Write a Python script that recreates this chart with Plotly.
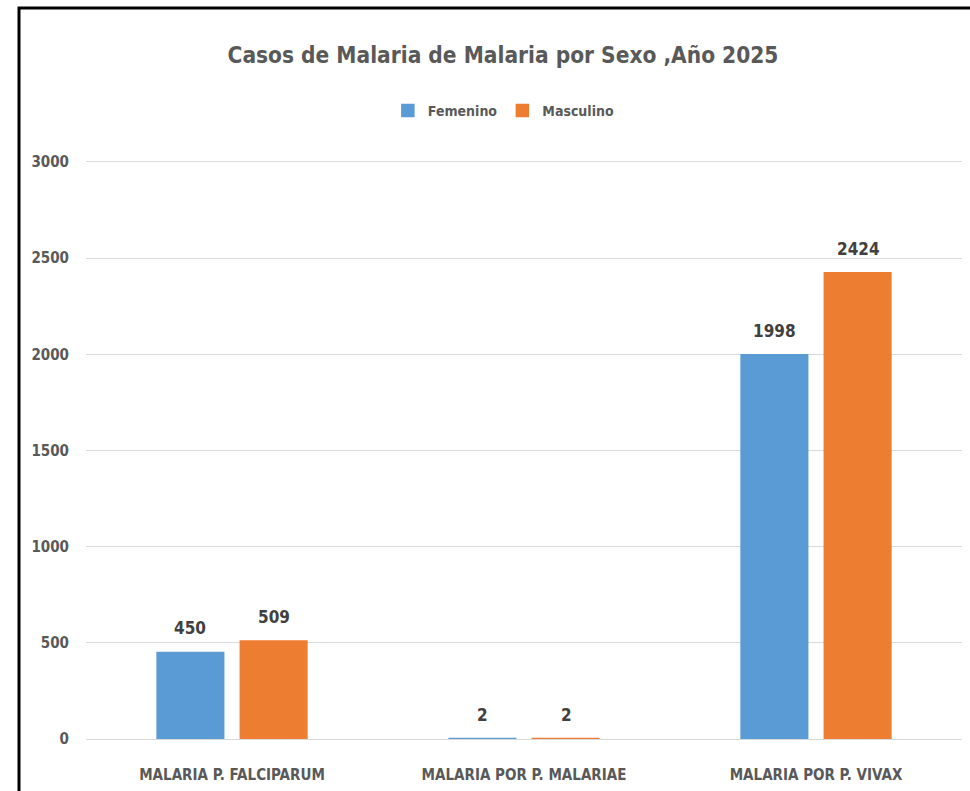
import plotly.graph_objects as go

categorias = ["MALARIA P. FALCIPARUM", "MALARIA POR P. MALARIAE", "MALARIA POR P. VIVAX"]
femenino = [450, 2, 1998]
masculino = [509, 2, 2424]
y_ticks = [0, 500, 1000, 1500, 2000, 2500, 3000]

FONT = "Liberation Sans Narrow, DejaVu Sans Condensed, Arial Narrow, sans-serif"

fig = go.Figure()

series = [("Femenino", femenino, "#5B9BD5", -42), ("Masculino", masculino, "#ED7D31", 42)]
for nombre, valores, color, desplaz in series:
    fig.add_trace(go.Bar(
        x=categorias,
        y=valores,
        name=nombre,
        marker=dict(color=color, line=dict(color=color, width=1.5)),
    ))
    # etiquetas de datos, separadas un poco de la barra como en Excel
    for cat, val in zip(categorias, valores):
        fig.add_annotation(
            x=cat, y=val, text=f"<b>{val}</b>",
            showarrow=False, xanchor="center", yanchor="bottom",
            xshift=desplaz, yshift=12,
            font=dict(family=FONT, size=17, color="#404040"),
        )

fig.update_layout(
    width=970,
    height=791,
    margin=dict(l=86, r=8, t=160, b=52),
    paper_bgcolor="white",
    plot_bgcolor="white",
    barmode="group",
    bargap=0.43,
    bargroupgap=0.2,
    title=dict(
        text="<b>Casos de Malaria de Malaria por Sexo ,Año 2025</b>",
        x=503 / 970, xanchor="center",
        y=1 - 55 / 791, yanchor="middle", yref="container",
        font=dict(family=FONT, size=22.5, color="#595959"),
    ),
    legend=dict(
        orientation="h",
        x=0.477, xanchor="center",
        y=1.085, yanchor="middle",
        font=dict(family=FONT, size=14, color="#595959", weight="bold"),
        itemwidth=30,
        traceorder="normal",
    ),
    xaxis=dict(
        showgrid=False,
        showline=True,
        linecolor="#D9D9D9",
        linewidth=1,
        ticks="",
        ticklabelstandoff=22,
        tickfont=dict(family=FONT, size=15, color="#595959", weight="bold"),
    ),
    yaxis=dict(
        range=[0, 3010],
        tickvals=y_ticks,
        showgrid=True,
        gridcolor="#D9D9D9",
        gridwidth=1,
        zeroline=False,
        ticks="",
        ticklabelstandoff=16,
        tickfont=dict(family=FONT, size=15, color="#595959", weight="bold"),
    ),
    shapes=[
        dict(
            type="rect", xref="paper", yref="paper",
            x0=(19 - 86) / 876, x1=1.2,
            y0=-0.2, y1=(739 - 8) / 579,
            line=dict(color="black", width=3),
            fillcolor="rgba(0,0,0,0)",
            layer="above",
        )
    ],
)

fig.write_html(
    "out.html",
    config={"displayModeBar": False},
    post_script="document.body.style.margin='0';",
)
